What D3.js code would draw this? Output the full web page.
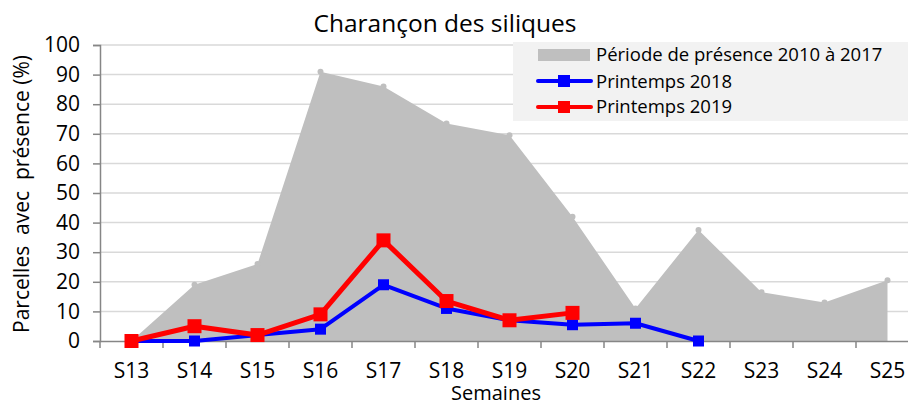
<!DOCTYPE html>
<html>
<head>
<meta charset="utf-8">
<script src="https://cdn.jsdelivr.net/npm/d3@7"></script>
<style>
  body { margin: 0; background: #fff; }
  svg { display: block; font-family: "Open Sans", sans-serif; }
</style>
</head>
<body>
<div id="svg-container"></div>
<script>
// data
const weeks = ["S13", "S14", "S15", "S16", "S17", "S18", "S19", "S20", "S21", "S22", "S23", "S24", "S25"];
const presence = [0, 19, 26, 91, 86, 73.5, 69.5, 42, 11, 37.5, 16.5, 13, 20.5];
const spring2018 = [0, 0, 2, 4, 19, 11, 7, 5.5, 6, 0];
const spring2019 = [0, 5, 2, 9, 34, 13.5, 7, 9.5];
const yTicks = [0, 10, 20, 30, 40, 50, 60, 70, 80, 90, 100];

const width = 908, height = 403;
const margin = { top: 45, right: -11, bottom: 62, left: 100 };

const svg = d3.select("#svg-container").append("svg")
  .attr("width", width).attr("height", height);

const xScale = d3.scaleBand().domain(weeks)
  .range([margin.left, width - margin.right]);
const yScale = d3.scaleLinear().domain([0, 100])
  .range([height - margin.bottom, margin.top]);
const cx = (w) => xScale(w) + xScale.bandwidth() / 2;

// grid
svg.append("g")
  .selectAll("line")
  .data(yTicks.filter((d) => d > 0))
  .join("line")
  .attr("x1", margin.left).attr("x2", width)
  .attr("y1", (d) => yScale(d)).attr("y2", (d) => yScale(d))
  .attr("stroke", "#d9d9d9").attr("stroke-width", 1.5);

// presence area
const area = d3.area()
  .x((d, i) => cx(weeks[i]))
  .y0(yScale(0))
  .y1((d) => yScale(d));
svg.append("path").datum(presence)
  .attr("d", area)
  .attr("fill", "#bfbfbf");
svg.append("g").selectAll("circle")
  .data(presence.slice(1))
  .join("circle")
  .attr("cx", (d, i) => cx(weeks[i + 1]))
  .attr("cy", (d) => yScale(d))
  .attr("r", 3)
  .attr("fill", "#bfbfbf");

// axes
const yAxis = d3.axisLeft(yScale).tickValues(yTicks).tickSize(7).tickPadding(13);
const xAxis = d3.axisBottom(xScale).tickSize(0).tickPadding(22);

const gy = svg.append("g")
  .attr("transform", `translate(${margin.left},0)`)
  .call(yAxis);
gy.select(".domain").attr("stroke", "#868686").attr("stroke-width", 1.5);
gy.selectAll(".tick line").attr("stroke", "#868686").attr("stroke-width", 1.5);
gy.selectAll("text").attr("font-size", 21).attr("fill", "#000")
  .attr("font-family", "Open Sans");

const gx = svg.append("g")
  .attr("transform", `translate(0,${yScale(0)})`)
  .call(xAxis);
gx.select(".domain").attr("stroke", "#868686").attr("stroke-width", 1.5);
gx.selectAll("text").attr("font-size", 21).attr("fill", "#000")
  .attr("font-family", "Open Sans");
// category boundary ticks
gx.append("g").selectAll("line")
  .data(weeks)
  .join("line")
  .attr("x1", (d) => xScale(d)).attr("x2", (d) => xScale(d))
  .attr("y1", 0).attr("y2", 7)
  .attr("stroke", "#868686").attr("stroke-width", 1.5);

// series lines
const line = d3.line()
  .x((d, i) => cx(weeks[i]))
  .y((d) => yScale(d));

function drawSeries(values, color, lw, size) {
  svg.append("path").datum(values)
    .attr("d", line)
    .attr("fill", "none")
    .attr("stroke", color)
    .attr("stroke-width", lw)
    .attr("stroke-linejoin", "round");
  svg.append("g").selectAll("rect")
    .data(values)
    .join("rect")
    .attr("x", (d, i) => cx(weeks[i]) - size / 2)
    .attr("y", (d) => yScale(d) - size / 2)
    .attr("width", size).attr("height", size)
    .attr("fill", color);
}
drawSeries(spring2018, "#0000ff", 4, 11);
drawSeries(spring2019, "#ff0000", 5, 14);

// title & axis labels
svg.append("text")
  .attr("x", 445).attr("y", 32)
  .attr("text-anchor", "middle")
  .attr("font-size", 24.5)
  .text("Charançon des siliques");

svg.append("text")
  .attr("x", 496).attr("y", 400)
  .attr("text-anchor", "middle")
  .attr("font-size", 20)
  .text("Semaines");

svg.append("text")
  .attr("transform", "translate(29,194) rotate(-90)")
  .attr("text-anchor", "middle")
  .attr("font-size", 21)
  .attr("xml:space", "preserve")
  .text("Parcelles  avec  présence (%)");

// legend
const legend = svg.append("g");
legend.append("rect")
  .attr("x", 513).attr("y", 42).attr("width", 395).attr("height", 79)
  .attr("fill", "#f2f2f2");
const legendItems = [
  { label: "Période de présence 2010 à 2017", type: "area", color: "#bfbfbf" },
  { label: "Printemps 2018", type: "line", color: "#0000ff" },
  { label: "Printemps 2019", type: "line", color: "#ff0000" }
];
const rowY = [55, 81, 107];
const textY = [61, 88, 113];
legendItems.forEach((item, i) => {
  const y = rowY[i];
  if (item.type === "area") {
    legend.append("rect")
      .attr("x", 538).attr("y", y - 6).attr("width", 52).attr("height", 12)
      .attr("fill", item.color);
  } else {
    legend.append("line")
      .attr("x1", 538).attr("x2", 591).attr("y1", y).attr("y2", y)
      .attr("stroke", item.color).attr("stroke-width", 4)
      .attr("stroke-linecap", "round");
    legend.append("rect")
      .attr("x", 558).attr("y", y - 6).attr("width", 12).attr("height", 12)
      .attr("fill", item.color);
  }
  legend.append("text")
    .attr("x", 596).attr("y", textY[i])
    .attr("font-size", 18.5)
    .text(item.label);
});
</script>
</body>
</html>
